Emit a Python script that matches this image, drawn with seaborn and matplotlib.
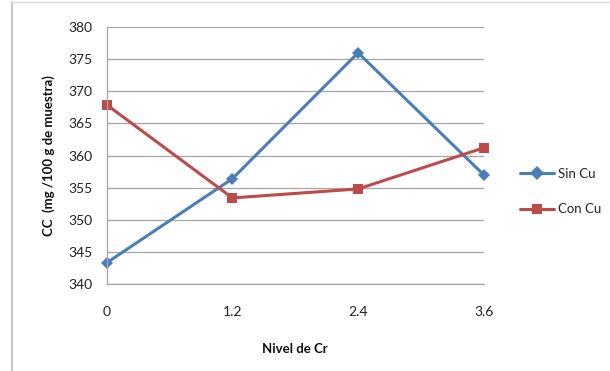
import matplotlib
matplotlib.use("Agg")
import matplotlib.pyplot as plt
import seaborn as sns
import pandas as pd

# data
niveles = [0, 1.2, 2.4, 3.6]
sin_cu = [343.3, 356.4, 376.0, 357.0]
con_cu = [367.9, 353.4, 354.8, 361.2]

df = pd.DataFrame({
    'Nivel': niveles * 2,
    'CC': sin_cu + con_cu,
    'Serie': ['Sin Cu'] * 4 + ['Con Cu'] * 4,
})

sns.set_theme(style='white')
plt.rcParams['font.family'] = ['Lato', 'DejaVu Sans']

fig = plt.figure(figsize=(6.10, 3.71), dpi=100)
ax = fig.add_axes([0.175, 0.2345, 0.618, 0.6925])

pal = {'Sin Cu': '#4A7EBB', 'Con Cu': '#BE4B48'}
sns.lineplot(data=df, x='Nivel', y='CC', hue='Serie', style='Serie',
             markers={'Sin Cu': 'D', 'Con Cu': 's'}, dashes=False,
             palette=pal, linewidth=2.2, markersize=7, markeredgewidth=0,
             ax=ax, legend=True)
for ln in ax.lines:
    ln.set_clip_on(False)
# smaller diamond
ax.lines[0].set_markersize(6)

ax.set_xlim(0, 3.6)
ax.set_ylim(340, 380)
ax.set_xticks(niveles)
ax.set_xticklabels(['0', '1.2', '2.4', '3.6'])
ax.set_yticks(range(340, 381, 5))
ax.yaxis.grid(True, color='#A6A6A6', linewidth=0.9)
ax.set_axisbelow(True)
for s in ['top', 'right']:
    ax.spines[s].set_visible(False)
for s in ['left', 'bottom']:
    ax.spines[s].set_color('#A6A6A6')
    ax.spines[s].set_linewidth(0.9)
ax.tick_params(axis='both', which='both', direction='out', length=4, width=0.9,
               color='#A6A6A6', labelsize=10, labelcolor='#222222', pad=6)
ax.tick_params(axis='x', pad=12)

ax.set_xlabel('Nivel de Cr', fontsize=9.5, fontweight='bold', labelpad=18, color='#111111')
ax.set_ylabel('CC  (mg /100 g de muestra)', fontsize=9.5, fontweight='bold', labelpad=10, color='#111111')

leg = ax.legend(loc='center left', bbox_to_anchor=(1.095, 0.36), frameon=False,
                fontsize=9.5, handlelength=2.6, labelspacing=1.8, handletextpad=0.3,
                borderaxespad=0, borderpad=0)

# chart border (partially visible in the reference)
fig.add_artist(plt.Line2D([0.02, 0.02], [0.0, 0.995], color='#BFBFBF', linewidth=1.2))
fig.add_artist(plt.Line2D([0.02, 1.0], [0.995, 0.995], color='#D9D9D9', linewidth=1.0))

fig.savefig('out.png', dpi=100)
